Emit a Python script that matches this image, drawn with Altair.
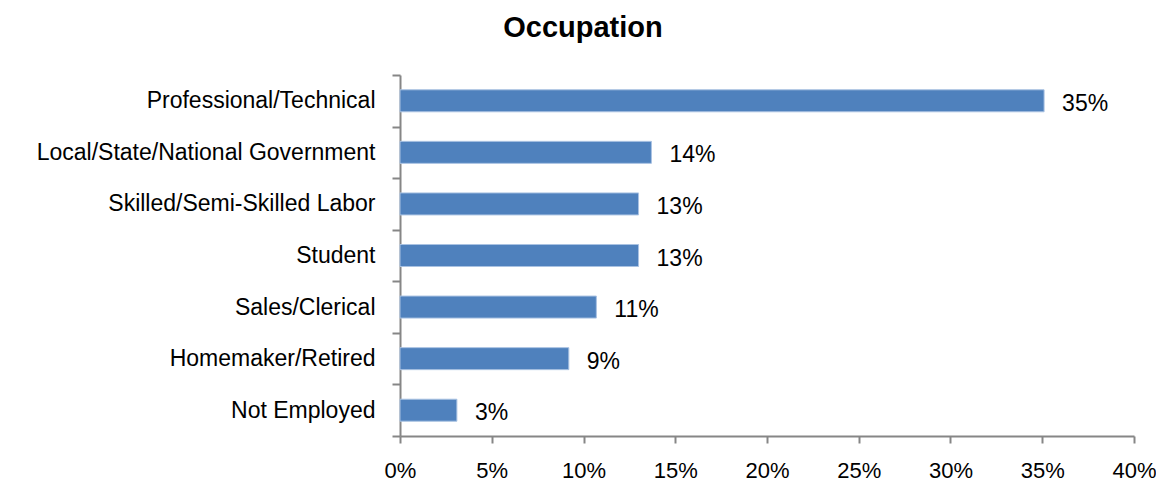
import altair as alt
import pandas as pd

categories = [
    "Professional/Technical",
    "Local/State/National Government",
    "Skilled/Semi-Skilled Labor",
    "Student",
    "Sales/Clerical",
    "Homemaker/Retired",
    "Not Employed",
]
shares = [0.351, 0.137, 0.130, 0.130, 0.107, 0.092, 0.031]
share_labels = ["35%", "14%", "13%", "13%", "11%", "9%", "3%"]
x_ticks = [0, 0.05, 0.10, 0.15, 0.20, 0.25, 0.30, 0.35, 0.40]

df = pd.DataFrame({"category": categories, "share": shares, "label": share_labels})

FONT = "Liberation Sans"
GRAY = "#868686"

y_enc = alt.Y(
    "category:N",
    sort=categories,
    title=None,
    scale=alt.Scale(paddingInner=0, paddingOuter=0),
    axis=alt.Axis(
        tickBand="extent",
        domainColor=GRAY,
        domainWidth=2,
        tickColor=GRAY,
        tickWidth=2,
        tickSize=8,
        labelPadding=17,
        labelFont=FONT,
        labelFontSize=23,
        labelColor="#000000",
        labelLimit=400,
    ),
)

x_enc = alt.X(
    "share:Q",
    title=None,
    scale=alt.Scale(domain=[0, 0.4], nice=False),
    axis=alt.Axis(
        values=x_ticks,
        format=".0%",
        grid=False,
        domainColor=GRAY,
        domainWidth=2,
        tickColor=GRAY,
        tickWidth=2,
        tickSize=7,
        labelPadding=17,
        labelFont=FONT,
        labelFontSize=22,
        labelColor="#000000",
        labelFlush=False,
    ),
)

bars = alt.Chart(df).mark_bar(
    size=22, color="#4F81BD", stroke="#a9c2e2", strokeWidth=1
).encode(x=x_enc, y=y_enc)

texts = alt.Chart(df).mark_text(
    align="left", baseline="middle", dx=18, dy=3, font=FONT, fontSize=23, color="#000000"
).encode(
    x=alt.X("share:Q"),
    y=alt.Y("category:N", sort=categories),
    text="label:N",
)

chart = (
    alt.layer(bars, texts)
    .properties(
        width=734,
        height=361,
        title=alt.TitleParams(
            "Occupation",
            font=FONT,
            fontSize=29,
            fontWeight="bold",
            color="#000000",
            anchor="middle",
            dx=-184,
            offset=21,
        ),
        autosize=alt.AutoSizeParams(type="none"),
        padding={"left": 392, "top": 67, "right": 22, "bottom": 49},
    )
    .configure_view(stroke=None)
)

chart.save("out.html", embed_options={"renderer": "svg", "actions": False})
